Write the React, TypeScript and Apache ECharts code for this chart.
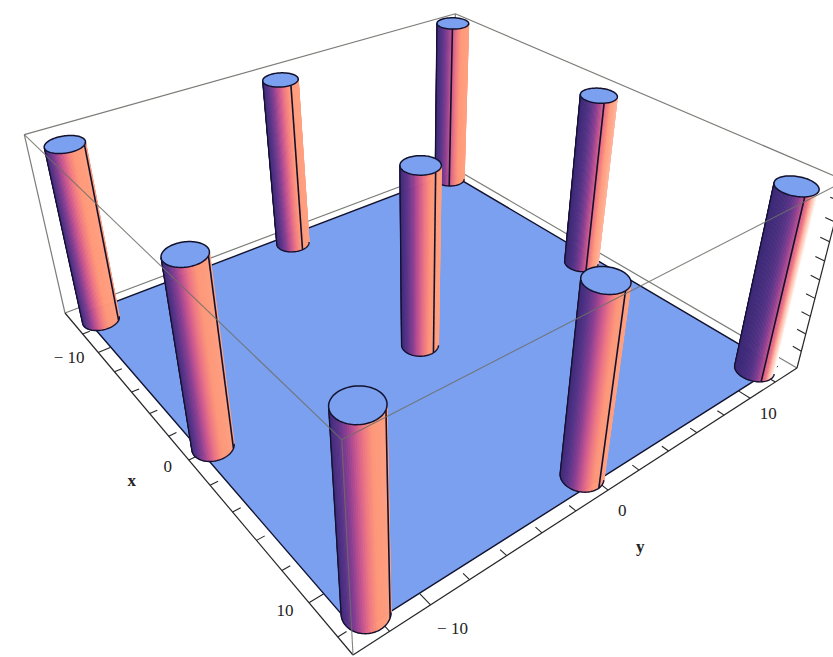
import React, { useEffect, useRef } from "react";
import * as echarts from "echarts";

// ---- data ----
const pillarX = [-12.6, -0.1, 11.75, -12.8, -0.25, 11.7, -13.2, -0.6, 11.75];
const pillarY = [-12.4, -12.4, -12.2, 0, -0.1, -0.3, 12.6, 12.2, 12];
const pillarTop = [0.98, 0.98, 0.98, 0.98, 0.98, 0.98, 1.0, 0.98, 0.98];
const pillarRadius = 0.97;
// how far the purple side reaches on each pillar, where its seam lies, and how much it fades out
const pillarGamma = [0.9, 0.95, 1.0, 1.05, 1.05, 1.05, 1.15, 1.5, 2.0];
const pillarSeam = [0.98, 0.98, 0.98, 0.8, 0.86, 0.88, 0.5, 0.62, 0.66];
const pillarGlow = [0, 0, 0, 0, 0, 0, 0, 0.2, 1];

const majorTicks = [-10, 0, 10];
const minorTicks = [-12, -8, -6, -4, -2, 2, 4, 6, 8, 12];
const zTicks = [0.1, 0.2, 0.3, 0.4, 0.5, 0.6, 0.7, 0.8, 0.9];
const majorLabels = ["\u2212 10", "0", "10"];
const axisNames = ["x", "y"];

// ---- label nudges, in pixels from the tick ----
const xLabelShift = [[-29, 5], [-21, 6], [-24, 8]];
const yLabelShift = [[22, 24], [14, 20], [18, 15]];

// ---- camera calibration (screen positions of the bounding box) ----
const X_MIN = -14.4, X_MAX = 13, Y_MIN = -13.7, Y_MAX = 13.8;
const FLOOR_X = [-13.7, 12.3];
const FLOOR_Y = [-13, 13.1];
const floorCorners = [[65, 313], [353, 655], [797, 368], [452, 167]];
const topCorners = [[25, 135], [345, 445], [840, 186], [457, 7]];

const [[x0, y0], [x1, y1], [x2, y2], [x3, y3]] = floorCorners;
const dx1 = x1 - x2, dx2 = x3 - x2, sx = x0 - x1 + x2 - x3;
const dy1 = y1 - y2, dy2 = y3 - y2, sy = y0 - y1 + y2 - y3;
const det = dx1 * dy2 - dx2 * dy1;
const g = (sx * dy2 - dx2 * sy) / det;
const h = (dx1 * sy - sx * dy1) / det;
const A = x1 - x0 + g * x1, B = x3 - x0 + h * x3, C = x0;
const D = y1 - y0 + g * y1, E = y3 - y0 + h * y3, F = y0;
const unit: number[][] = [[0, 0], [1, 0], [1, 1], [0, 1]];
const rows = unit.map(([u, v], i) => {
  const w = g * u + h * v + 1;
  const [tx, ty] = topCorners[i];
  return { tx, ty, r: tx * w - (A * u + B * v + C), q: ty * w - (D * u + E * v + F) };
});
const mean = (k: "tx" | "ty" | "r" | "q") => rows.reduce((s, o) => s + o[k], 0) / rows.length;
const mtx = mean("tx"), mty = mean("ty"), mr = mean("r"), mq = mean("q");
let numer = 0, denom = 0;
rows.forEach((o) => {
  numer += (o.tx - mtx) * (o.r - mr) + (o.ty - mty) * (o.q - mq);
  denom += (o.tx - mtx) ** 2 + (o.ty - mty) ** 2;
});
const zW = -numer / denom;
const zX = mr + mtx * zW;
const zY = mq + mty * zW;

function project(wx: number, wy: number, wz: number): number[] {
  const u = (wx - X_MIN) / (X_MAX - X_MIN), v = (wy - Y_MIN) / (Y_MAX - Y_MIN);
  const w = g * u + h * v + 1 + wz * zW;
  return [(A * u + B * v + C + wz * zX) / w, (D * u + E * v + F + wz * zY) / w];
}

// ---- shading ----
const ramp: [number, number[]][] = [
  [0, [62, 42, 120]], [0.15, [88, 52, 136]], [0.3, [138, 62, 144]], [0.45, [200, 85, 143]],
  [0.6, [240, 120, 130]], [0.75, [255, 152, 120]], [1, [255, 160, 128]],
];
function shade(f: number, gamma: number, glow: number): string {
  const t = Math.pow(Math.max(0, Math.min(1, f)), gamma);
  let c = ramp[ramp.length - 1][1];
  for (let i = 1; i < ramp.length; i++) {
    if (t <= ramp[i][0]) {
      const p = (t - ramp[i - 1][0]) / (ramp[i][0] - ramp[i - 1][0]);
      c = ramp[i][1].map((v, k) => v * p + ramp[i - 1][1][k] * (1 - p));
      break;
    }
  }
  const w = Math.max(0, (f - 0.78) / 0.22) * glow;
  c = c.map((v) => v * (1 - w) + 255 * w);
  return `rgb(${c.map(Math.round).join(",")})`;
}

const BLUE = "#7ba0f0";
const GREY = "#7c7c78";
const INK = "#12122e";
const FONT = '17px "Liberation Serif"';

const pillarRows = pillarX
  .map((x, i) => [x, pillarY[i], pillarTop[i], pillarGamma[i], pillarSeam[i], pillarGlow[i]])
  .sort((a, b) => project(a[0], a[1], 0)[1] - project(b[0], b[1], 0)[1]);

const corner = [[X_MIN, Y_MIN], [X_MAX, Y_MIN], [X_MAX, Y_MAX], [X_MIN, Y_MAX]];
const backEdges = [
  [0, 0, 3, 0], [3, 0, 2, 0], [0, 1, 3, 1], [3, 1, 2, 1], [0, 0, 0, 1], [3, 0, 3, 1],
];
const frontEdges = [[0, 1, 1, 1], [1, 1, 2, 1], [1, 0, 1, 1]];

function App() {
  const ref = useRef<HTMLDivElement>(null);
  useEffect(() => {
    const chart = echarts.init(ref.current!, null, { renderer: "svg" });

    const edgeSeries = (name: string, edges: number[][], z: number, color: string, width: number) => ({
      type: "custom", name, coordinateSystem: "cartesian2d", z, silent: true, clip: false, data: edges,
      renderItem: (_: any, api: any) => {
        const a = corner[api.value(0)], b = corner[api.value(2)];
        const p = api.coord(project(a[0], a[1], api.value(1)));
        const q = api.coord(project(b[0], b[1], api.value(3)));
        return {
          type: "line",
          shape: { x1: p[0], y1: p[1], x2: q[0], y2: q[1] },
          style: { stroke: color, lineWidth: width, fill: "none" },
        };
      },
    });

    const option: any = {
      animation: false,
      backgroundColor: "#ffffff",
      grid: { left: 0, right: 0, top: 0, bottom: 0 },
      xAxis: { type: "value", min: 0, max: 833, show: false },
      yAxis: { type: "value", min: 0, max: 657, inverse: true, show: false },
      series: [
        edgeSeries("box back", backEdges, 1, GREY, 1.2),
        {
          type: "custom", name: "floor", coordinateSystem: "cartesian2d", z: 2, silent: true, clip: false,
          data: [[FLOOR_X[0], FLOOR_X[1], FLOOR_Y[0], FLOOR_Y[1]]],
          renderItem: (_: any, api: any) => {
            const [a, b, c, d] = [0, 1, 2, 3].map((k) => api.value(k));
            const pts = [[a, c], [b, c], [b, d], [a, d]].map((q) => api.coord(project(q[0], q[1], 0)));
            return {
              type: "polygon",
              shape: { points: pts },
              style: { fill: BLUE, stroke: INK, lineWidth: 1.4 },
            };
          },
        },
        edgeSeries("axis lines", [[0, 0, 1, 0], [1, 0, 2, 0], [2, 0, 2, 1]], 3, "#26262a", 1.2),
        {
          type: "custom", name: "x ticks", coordinateSystem: "cartesian2d", z: 3, silent: true, clip: false,
          data: [...majorTicks.map((t) => [t, 0.7]), ...minorTicks.map((t) => [t, 0.4])],
          renderItem: (_: any, api: any) => {
            const p = api.coord(project(api.value(0), Y_MIN, 0));
            const q = api.coord(project(api.value(0), Y_MIN + api.value(1), 0));
            return { type: "line", shape: { x1: p[0], y1: p[1], x2: q[0], y2: q[1] }, style: { stroke: "#26262a", lineWidth: 1.1 } };
          },
        },
        {
          type: "custom", name: "y ticks", coordinateSystem: "cartesian2d", z: 3, silent: true, clip: false,
          data: [...majorTicks.map((t) => [t, 0.7]), ...minorTicks.map((t) => [t, 0.4])],
          renderItem: (_: any, api: any) => {
            const p = api.coord(project(X_MAX, api.value(0), 0));
            const q = api.coord(project(X_MAX - api.value(1), api.value(0), 0));
            return { type: "line", shape: { x1: p[0], y1: p[1], x2: q[0], y2: q[1] }, style: { stroke: "#26262a", lineWidth: 1.1 } };
          },
        },
        {
          type: "custom", name: "z ticks", coordinateSystem: "cartesian2d", z: 3, silent: true, clip: false,
          data: zTicks.map((t) => [t]),
          renderItem: (_: any, api: any) => {
            const p = api.coord(project(X_MAX, Y_MAX, api.value(0)));
            const q = api.coord(project(X_MAX - 0.5, Y_MAX, api.value(0)));
            return { type: "line", shape: { x1: p[0], y1: p[1], x2: q[0], y2: q[1] }, style: { stroke: "#26262a", lineWidth: 1.1 } };
          },
        },
        {
          type: "custom", name: "x labels", coordinateSystem: "cartesian2d", z: 3, silent: true, clip: false,
          data: majorTicks.map((t, i) => [t, i]),
          renderItem: (_: any, api: any) => {
            const p = api.coord(project(api.value(0), Y_MIN, 0));
            const i = api.value(1);
            return {
              type: "text",
              style: { text: majorLabels[i], x: p[0] + xLabelShift[i][0], y: p[1] + xLabelShift[i][1], align: "center", verticalAlign: "middle", font: FONT, fill: "#222" },
            };
          },
        },
        {
          type: "custom", name: "y labels", coordinateSystem: "cartesian2d", z: 3, silent: true, clip: false,
          data: majorTicks.map((t, i) => [t, i]),
          renderItem: (_: any, api: any) => {
            const p = api.coord(project(X_MAX, api.value(0), 0));
            const i = api.value(1);
            return {
              type: "text",
              style: { text: majorLabels[i], x: p[0] + yLabelShift[i][0], y: p[1] + yLabelShift[i][1], align: "center", verticalAlign: "middle", font: FONT, fill: "#222" },
            };
          },
        },
        {
          type: "custom", name: "axis names", coordinateSystem: "cartesian2d", z: 3, silent: true, clip: false,
          data: [[0]],
          renderItem: (_: any, api: any) => {
            const p = api.coord(project(0, Y_MIN, 0));
            const q = api.coord(project(X_MAX, 0, 0));
            const bold = 'bold 17px "Liberation Serif"';
            return {
              type: "group",
              children: [
                { type: "text", style: { text: axisNames[0], x: p[0] - 57, y: p[1] + 20, align: "center", verticalAlign: "middle", font: bold, fill: "#222" } },
                { type: "text", style: { text: axisNames[1], x: q[0] + 32, y: q[1] + 56, align: "center", verticalAlign: "middle", font: bold, fill: "#222" } },
              ],
            };
          },
        },
        {
          type: "custom", name: "pillars", coordinateSystem: "cartesian2d", z: 4, silent: true, clip: false,
          data: pillarRows,
          renderItem: (_: any, api: any) => {
            const [cx, cy, top, gamma, seam, glow] = [0, 1, 2, 3, 4, 5].map((k) => api.value(k));
            const N = 96;
            const bot: number[][] = [], tip: number[][] = [];
            for (let k = 0; k <= N; k++) {
              const a = (2 * Math.PI * k) / N;
              const wx = cx + pillarRadius * Math.cos(a), wy = cy + pillarRadius * Math.sin(a);
              bot.push(api.coord(project(wx, wy, 0)));
              tip.push(api.coord(project(wx, wy, top)));
            }
            const front: number[] = [];
            for (let k = 0; k < N; k++) {
              const q = [bot[k], bot[k + 1], tip[k + 1], tip[k]];
              let area = 0;
              q.forEach((a, i) => { const b = q[(i + 1) % 4]; area += a[0] * b[1] - b[0] * a[1]; });
              if (area < 0) front.push(k);
            }
            // put the front-facing facets in running order, left to right on the screen
            let start = front.findIndex((k) => !front.includes((k + N - 1) % N));
            if (start < 0) start = 0;
            const run = [...front.slice(start), ...front.slice(0, start)];
            const L = bot[run[0]][0], R = bot[(run[run.length - 1] + 1) % N][0];
            const frac = (k: number) => (((bot[k][0] + bot[k + 1][0]) / 2) - L) / (R - L);
            const children: any[] = run.map((k) => {
              const fill = shade(frac(k), gamma, glow);
              return {
                type: "polygon",
                shape: { points: [bot[k], bot[k + 1], tip[k + 1], tip[k]] },
                style: { fill, stroke: fill, lineWidth: 0.8 },
              };
            });
            const line = (pts: number[][], w: number) => ({
              type: "polyline", shape: { points: pts }, style: { stroke: INK, fill: "none", lineWidth: w },
            });
            children.push(line([bot[run[0]], tip[run[0]]], 1.3));
            const seamFacet = run.find((k) => frac(k) >= seam) ?? run[run.length - 1];
            children.push(line([bot[seamFacet], tip[seamFacet]], 1.6));
            children.push(line([...run.map((k) => bot[k]), bot[(run[run.length - 1] + 1) % N]], 1.4));
            children.push({
              type: "polygon",
              shape: { points: tip.slice(0, N) },
              style: { fill: BLUE, stroke: INK, lineWidth: 1.5 },
            });
            return { type: "group", children };
          },
        },
        edgeSeries("box front", frontEdges, 5, "rgba(110,110,105,0.85)", 1.1),
      ],
    };
    chart.setOption(option);
    return () => chart.dispose();
  }, []);
  return <div ref={ref} style={{ position: "absolute", left: 0, top: 0, width: 833, height: 657 }} />;
}

export default App;
